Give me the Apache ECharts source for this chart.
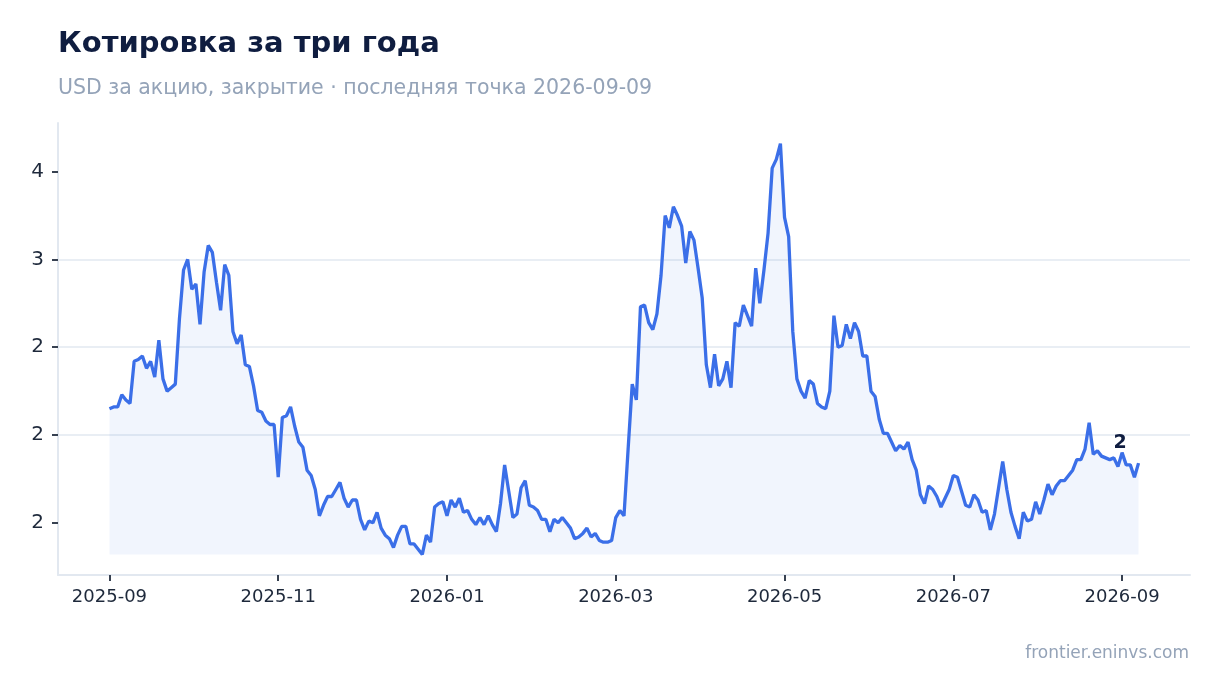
<!DOCTYPE html>
<html lang="ru">
<head>
<meta charset="utf-8">
<title>Котировка за три года</title>
<script src="https://cdn.jsdelivr.net/npm/echarts@6.0.0/dist/echarts.min.js"></script>
<style>
    html, body { margin: 0; padding: 0; background: #ffffff; }
    #chart { width: 1220px; height: 693px; }
</style>
</head>
<body>
<div id="chart"></div>
<script>
    // trading days, one point per business day
    var dates = [
        '2025-09-24','2025-09-25','2025-09-26','2025-09-29','2025-09-30',
        '2025-10-01','2025-10-02','2025-10-03','2025-10-06','2025-10-07','2025-10-08','2025-10-09','2025-10-10',
        '2025-10-13','2025-10-14','2025-10-15','2025-10-16','2025-10-17','2025-10-20','2025-10-21','2025-10-22',
        '2025-10-23','2025-10-24','2025-10-27','2025-10-28','2025-10-29','2025-10-30','2025-10-31',
        '2025-11-03','2025-11-04','2025-11-05','2025-11-06','2025-11-07','2025-11-10','2025-11-11','2025-11-12',
        '2025-11-13','2025-11-14','2025-11-17','2025-11-18','2025-11-19','2025-11-20','2025-11-21','2025-11-24',
        '2025-11-25','2025-11-26','2025-11-27','2025-11-28',
        '2025-12-01','2025-12-02','2025-12-03','2025-12-04','2025-12-05','2025-12-08','2025-12-09','2025-12-10',
        '2025-12-11','2025-12-12','2025-12-15','2025-12-16','2025-12-17','2025-12-18','2025-12-19','2025-12-22',
        '2025-12-23','2025-12-24','2025-12-25','2025-12-26','2025-12-29','2025-12-30','2025-12-31',
        '2026-01-01','2026-01-02','2026-01-05','2026-01-06','2026-01-07','2026-01-08','2026-01-09','2026-01-12',
        '2026-01-13','2026-01-14','2026-01-15','2026-01-16','2026-01-19','2026-01-20','2026-01-21','2026-01-22',
        '2026-01-23','2026-01-26','2026-01-27','2026-01-28','2026-01-29','2026-01-30',
        '2026-02-02','2026-02-03','2026-02-04','2026-02-05','2026-02-06','2026-02-09','2026-02-10','2026-02-11',
        '2026-02-12','2026-02-13','2026-02-16','2026-02-17','2026-02-18','2026-02-19','2026-02-20','2026-02-23',
        '2026-02-24','2026-02-25','2026-02-26','2026-02-27',
        '2026-03-02','2026-03-03','2026-03-04','2026-03-05','2026-03-06','2026-03-09','2026-03-10','2026-03-11',
        '2026-03-12','2026-03-13','2026-03-16','2026-03-17','2026-03-18','2026-03-19','2026-03-20','2026-03-23',
        '2026-03-24','2026-03-25','2026-03-26','2026-03-27','2026-03-30','2026-03-31',
        '2026-04-01','2026-04-02','2026-04-03','2026-04-06','2026-04-07','2026-04-08','2026-04-09','2026-04-10',
        '2026-04-13','2026-04-14','2026-04-15','2026-04-16','2026-04-17','2026-04-20','2026-04-21','2026-04-22',
        '2026-04-23','2026-04-24','2026-04-27','2026-04-28','2026-04-29','2026-04-30',
        '2026-05-01','2026-05-04','2026-05-05','2026-05-06','2026-05-07','2026-05-08','2026-05-11','2026-05-12',
        '2026-05-13','2026-05-14','2026-05-15','2026-05-18','2026-05-19','2026-05-20','2026-05-21','2026-05-22',
        '2026-05-25','2026-05-26','2026-05-27','2026-05-28','2026-05-29',
        '2026-06-01','2026-06-02','2026-06-03','2026-06-04','2026-06-05','2026-06-08','2026-06-09','2026-06-10',
        '2026-06-11','2026-06-12','2026-06-15','2026-06-16','2026-06-17','2026-06-18','2026-06-19','2026-06-22',
        '2026-06-23','2026-06-24','2026-06-25','2026-06-26','2026-06-29','2026-06-30',
        '2026-07-01','2026-07-02','2026-07-03','2026-07-06','2026-07-07','2026-07-08','2026-07-09','2026-07-10',
        '2026-07-13','2026-07-14','2026-07-15','2026-07-16','2026-07-17','2026-07-20','2026-07-21','2026-07-22',
        '2026-07-23','2026-07-24','2026-07-27','2026-07-28','2026-07-29','2026-07-30','2026-07-31',
        '2026-08-03','2026-08-04','2026-08-05','2026-08-06','2026-08-07','2026-08-10','2026-08-11','2026-08-12',
        '2026-08-13','2026-08-14','2026-08-17','2026-08-18','2026-08-19','2026-08-20','2026-08-21','2026-08-24',
        '2026-08-25','2026-08-26','2026-08-27','2026-08-28','2026-08-31',
        '2026-09-01','2026-09-02','2026-09-03','2026-09-04','2026-09-07','2026-09-08','2026-09-09'
    ];

    // close, USD
    var values = [
        2.15, 2.16, 2.16, 2.23, 2.20, 2.18, 2.42, 2.43, 2.45, 2.38,
        2.42, 2.33, 2.54, 2.32, 2.25, 2.27, 2.29, 2.66, 2.94, 3.00,
        2.83, 2.86, 2.63, 2.93, 3.08, 3.04, 2.87, 2.71, 2.97, 2.91,
        2.59, 2.52, 2.57, 2.40, 2.39, 2.28, 2.14, 2.13, 2.08, 2.06,
        2.06, 1.76, 2.10, 2.11, 2.16, 2.05, 1.96, 1.93, 1.80, 1.77,
        1.69, 1.54, 1.60, 1.65, 1.65, 1.69, 1.73, 1.64, 1.59, 1.63,
        1.63, 1.52, 1.46, 1.51, 1.50, 1.56, 1.47, 1.43, 1.41, 1.36,
        1.43, 1.48, 1.48, 1.38, 1.38, 1.35, 1.32, 1.43, 1.39, 1.59,
        1.61, 1.62, 1.54, 1.63, 1.59, 1.64, 1.56, 1.57, 1.52, 1.49,
        1.53, 1.49, 1.54, 1.49, 1.45, 1.61, 1.83, 1.68, 1.53, 1.55,
        1.70, 1.74, 1.60, 1.59, 1.57, 1.52, 1.52, 1.45, 1.52, 1.50,
        1.53, 1.50, 1.47, 1.41, 1.42, 1.44, 1.47, 1.42, 1.44, 1.40,
        1.39, 1.39, 1.40, 1.53, 1.57, 1.54, 1.92, 2.29, 2.20, 2.73,
        2.74, 2.64, 2.60, 2.69, 2.91, 3.25, 3.18, 3.30, 3.25, 3.19,
        2.98, 3.16, 3.11, 2.95, 2.78, 2.40, 2.27, 2.46, 2.28, 2.32,
        2.42, 2.27, 2.64, 2.62, 2.74, 2.68, 2.62, 2.95, 2.75, 2.94,
        3.15, 3.52, 3.57, 3.66, 3.24, 3.13, 2.59, 2.32, 2.25, 2.21,
        2.31, 2.29, 2.18, 2.16, 2.15, 2.25, 2.68, 2.50, 2.51, 2.63,
        2.55, 2.64, 2.59, 2.45, 2.45, 2.25, 2.22, 2.09, 2.01, 2.01,
        1.96, 1.91, 1.94, 1.92, 1.96, 1.86, 1.80, 1.66, 1.61, 1.71,
        1.69, 1.65, 1.59, 1.64, 1.69, 1.77, 1.76, 1.68, 1.60, 1.59,
        1.66, 1.63, 1.56, 1.57, 1.46, 1.55, 1.70, 1.85, 1.69, 1.56,
        1.48, 1.41, 1.56, 1.51, 1.52, 1.62, 1.55, 1.63, 1.72, 1.66,
        1.71, 1.74, 1.74, 1.77, 1.80, 1.86, 1.86, 1.92, 2.07, 1.89,
        1.91, 1.88, 1.87, 1.86, 1.87, 1.82, 1.90, 1.83, 1.83, 1.76,
        1.84
    ];

    // x ticks sit on every 41st trading day
    var tickIndex = [0, 41, 82, 123, 164, 205, 246];
    var tickLabels = ['2025-09', '2025-11', '2026-01', '2026-03', '2026-05', '2026-07', '2026-09'];
    var yTicks = [1.5, 2, 2.5, 3, 3.5];
    var markedIndex = 246;

    var FONT = '"DejaVu Sans", sans-serif';
    var lineColor = '#3b6fe8';
    var gridColor = '#e2e8f0';
    var tickColor = '#374151';

    // round half to even, so 2.5 -> 2 and 3.5 -> 4
    function roundLabel(v) {
        var f = Math.floor(v);
        if (Math.abs(v - f - 0.5) < 1e-9) {
            return String(f % 2 === 0 ? f : f + 1);
        }
        return String(Math.round(v));
    }

    var points = values.map(function (v, i) { return [i, v]; });
    var lowest = Math.min.apply(null, values);
    var last = values.length - 1;
    var xPad = last * 0.05;

    var chart = echarts.init(document.getElementById('chart'), null, { renderer: 'canvas' });

    var option = {
        backgroundColor: '#ffffff',
        animation: false,
        textStyle: { fontFamily: FONT },
        title: [
            {
                text: 'Котировка за три года',
                left: 53, top: 25,
                textStyle: { fontFamily: FONT, fontSize: 29, fontWeight: 'bold', color: '#0f1d40' }
            },
            {
                text: 'USD за акцию, закрытие · последняя точка ' + dates[last],
                left: 53, top: 73,
                textStyle: { fontFamily: FONT, fontSize: 20.5, fontWeight: 'normal', color: '#94a3b8' }
            },
            {
                text: 'frontier.eninvs.com',
                right: 26, top: 640,
                textStyle: { fontFamily: FONT, fontSize: 17, fontWeight: 'normal', color: '#94a3b8' }
            }
        ],
        grid: { left: 58, right: 30, top: 123, bottom: 118, containLabel: false },
        xAxis: {
            type: 'value',
            min: -xPad,
            max: last + xPad,
            axisLine: { show: true, onZero: false, lineStyle: { color: gridColor, width: 2 } },
            axisTick: {
                show: true, customValues: tickIndex, length: 6,
                lineStyle: { color: tickColor, width: 2 }
            },
            axisLabel: {
                customValues: tickIndex,
                margin: 13,
                fontFamily: FONT, fontSize: 18, color: '#1e293b',
                formatter: function (v) {
                    var k = tickIndex.indexOf(Math.round(v));
                    return k >= 0 ? tickLabels[k] : '';
                }
            },
            splitLine: { show: false }
        },
        yAxis: {
            type: 'value',
            min: function (e) { return e.min - (e.max - e.min) * 0.05; },
            max: function (e) { return e.max + (e.max - e.min) * 0.05; },
            axisLine: { show: true, onZero: false, lineStyle: { color: gridColor, width: 2 } },
            axisTick: {
                show: true, customValues: yTicks, length: 6,
                lineStyle: { color: tickColor, width: 2 }
            },
            axisLabel: {
                customValues: yTicks,
                margin: 14,
                fontFamily: FONT, fontSize: 20, color: '#1e293b',
                formatter: roundLabel
            },
            splitLine: {
                show: true, showMinLine: false, showMaxLine: false,
                lineStyle: { color: gridColor, width: 1.5 }
            }
        },
        series: [
            {
                type: 'line',
                data: points,
                showSymbol: false,
                smooth: false,
                lineStyle: { color: lineColor, width: 3.3 },
                itemStyle: { color: lineColor },
                areaStyle: { color: 'rgba(59,111,232,0.1)', origin: lowest },
                markPoint: {
                    symbol: 'circle',
                    symbolSize: 1,
                    itemStyle: { color: 'rgba(0,0,0,0)' },
                    label: {
                        show: true, position: 'top', distance: 0,
                        offset: [-2, 0],
                        fontFamily: FONT, fontSize: 19, fontWeight: 'bold', color: '#0f1d40',
                        formatter: function (p) { return roundLabel(p.value); }
                    },
                    data: [{ coord: [markedIndex, values[markedIndex]], value: values[markedIndex] }]
                }
            }
        ]
    };

    chart.setOption(option);
</script>
</body>
</html>
